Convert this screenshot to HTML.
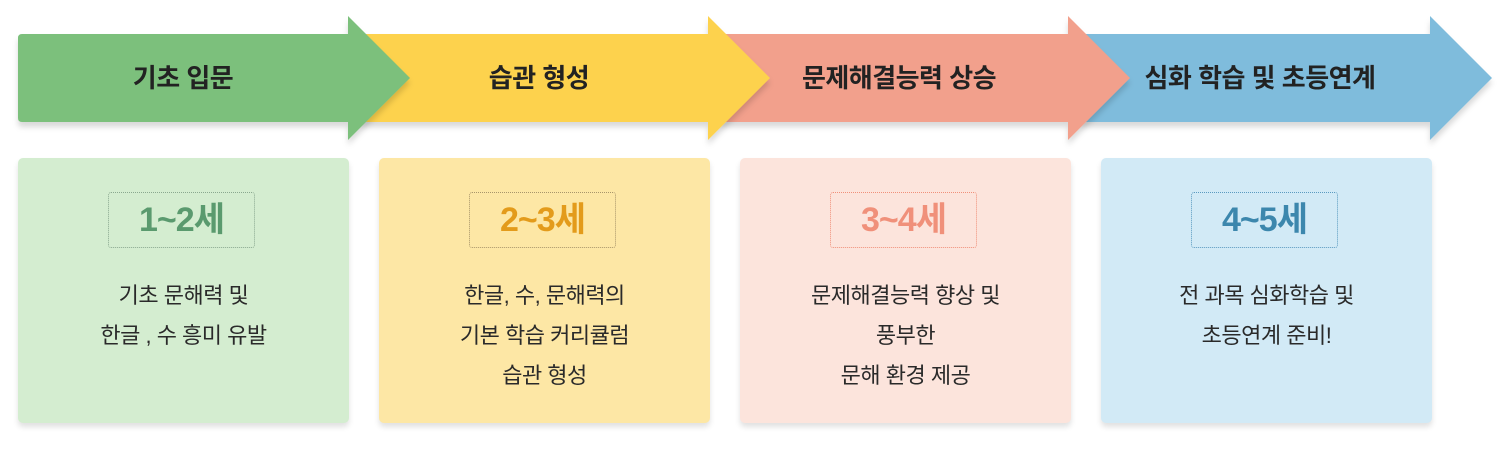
<!DOCTYPE html>
<html><head><meta charset="utf-8"><style>
body{margin:0;width:1500px;height:450px;background:#fff;position:relative;overflow:hidden;font-family:"Liberation Sans","Noto Sans CJK KR",sans-serif;}
svg{position:absolute;left:0;top:0}
.t{position:absolute;top:60px;height:36px;line-height:36px;text-align:center;font-weight:bold;font-size:26px;color:#222;letter-spacing:-0.5px}
.card{position:absolute;top:158px;width:331px;height:265px;border-radius:5px;box-shadow:0 4px 6px rgba(0,0,0,0.12);text-align:center;}
.badge{position:absolute;left:90px;top:34px;width:147px;height:56px;border:1.5px dotted;border-radius:3px;font-weight:bold;font-size:34px;line-height:54px;box-sizing:border-box;letter-spacing:-1px}
.txt{position:absolute;left:0;right:0;top:118px;font-size:22px;line-height:40px;color:#2a2a2a;letter-spacing:-0.5px}
</style></head><body>
<svg width="1500" height="450">
<defs><filter id="s" x="-10%" y="-10%" width="130%" height="140%"><feDropShadow dx="0" dy="5" stdDeviation="3" flood-color="#000" flood-opacity="0.15"/></filter></defs>
<polygon filter="url(#s)" fill="#7fbcdc" points="1080,34 1430,34 1430,16 1492,78 1430,140 1430,122 1080,122"/>
<polygon filter="url(#s)" fill="#f2a08c" points="720,34 1068,34 1068,16 1130,78 1068,140 1068,122 720,122"/>
<polygon filter="url(#s)" fill="#fdd24e" points="360,34 708,34 708,16 770,78 708,140 708,122 360,122"/>
<path filter="url(#s)" fill="#7bc07b" d="M22,34 L348,34 L348,16 L410,78 L348,140 L348,122 L22,122 Q18,122 18,118 L18,38 Q18,34 22,34 Z"/>
</svg>
<div class="t" style="left:18px;width:330px">기초 입문</div>
<div class="t" style="left:370px;width:338px">습관 형성</div>
<div class="t" style="left:730px;width:338px">문제해결능력 상승</div>
<div class="t" style="left:1090px;width:340px">심화 학습 및 초등연계</div>

<div class="card" style="left:18px;background:#d4edd0"><div class="badge" style="color:#5a9a6e;border-color:#8aa88f">1~2세</div><div class="txt">기초 문해력 및<br>한글 , 수 흥미 유발</div></div>
<div class="card" style="left:379px;background:#fde7a5"><div class="badge" style="color:#e39b1b;border-color:#a8956a">2~3세</div><div class="txt">한글, 수, 문해력의<br>기본 학습 커리큘럼<br>습관 형성</div></div>
<div class="card" style="left:740px;background:#fce4dc"><div class="badge" style="color:#f0907a;border-color:#f0907a">3~4세</div><div class="txt">문제해결능력 향상 및<br>풍부한<br>문해 환경 제공</div></div>
<div class="card" style="left:1101px;background:#d2eaf6"><div class="badge" style="color:#3c87ad;border-color:#5a9ac0">4~5세</div><div class="txt">전 과목 심화학습 및<br>초등연계 준비!</div></div>
</body></html>
